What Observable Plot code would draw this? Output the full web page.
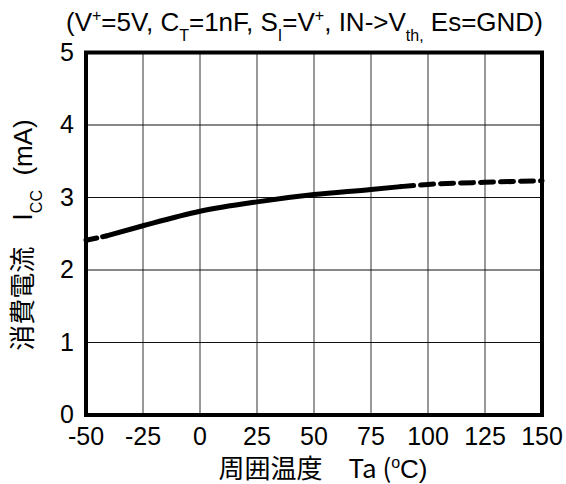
<!DOCTYPE html>
<html>
<head>
<meta charset="utf-8">
<script src="https://cdn.jsdelivr.net/npm/d3@7"></script>
<script src="https://cdn.jsdelivr.net/npm/@observablehq/plot@0.6"></script>
<style>
  html, body { margin: 0; padding: 0; background: #fff; }
  svg text { font-family: "Liberation Sans", Arial, sans-serif; }
</style>
</head>
<body>
<div id="chart"></div>
<script>
// Ambient temperature (°C) and supply current Icc (mA)
const tempC = [-50, -41, -25, 0, 25, 50, 75, 88, 100, 125, 150];
const iccMA = [2.41, 2.47, 2.61, 2.81, 2.94, 3.04, 3.11, 3.15, 3.18, 3.21, 3.23];
// which points belong to each drawn segment
const dashStartIdx = [0, 1];
const solidIdx = [1, 2, 3, 4, 5, 6, 7];
const dashEndIdx = [7, 8, 9, 10];
const xTicks = [-50, -25, 0, 25, 50, 75, 100, 125, 150];
const yTicks = [0, 1, 2, 3, 4, 5];

const pts = idx => idx.map(i => ({t: tempC[i], v: iccMA[i]}));

const W = 566, H = 484;
const chart = Plot.plot({
  width: W, height: H,
  marginLeft: 85.5, marginRight: 24.5, marginTop: 52, marginBottom: 69.5,
  style: {fontFamily: "Liberation Sans, Arial, sans-serif", fontSize: "25px", color: "#000", background: "#fff"},
  x: {domain: [-50, 150]},
  y: {domain: [0, 5]},
  marks: [
    Plot.gridX(xTicks, {stroke: "#333", strokeOpacity: 1, strokeWidth: 1}),
    Plot.gridY(yTicks, {stroke: "#111", strokeOpacity: 1, strokeWidth: 1}),
    Plot.line(pts(dashStartIdx), {x: "t", y: "v", stroke: "#000", strokeWidth: 5, strokeDasharray: "11,6", curve: "monotone-x"}),
    Plot.line(pts(solidIdx), {x: "t", y: "v", stroke: "#000", strokeWidth: 5, curve: "monotone-x"}),
    Plot.line(pts(dashEndIdx), {x: "t", y: "v", stroke: "#000", strokeWidth: 5, strokeDasharray: "13,7", curve: "monotone-x"}),
    Plot.frame({stroke: "#000", strokeWidth: 4}),
    Plot.axisX({ticks: xTicks, tickSize: 0, tickPadding: 12, fontSize: 25, label: null, tickFormat: d => String(d)}),
    Plot.axisY({ticks: yTicks, tickSize: 0, tickPadding: 12, fontSize: 25, label: null, tickFormat: d => String(d)})
  ]
});
document.getElementById("chart").appendChild(chart);

const svg = d3.select(chart);
svg.selectAll('g[aria-label$="tick label"]').attr("font-size", 25);

function addText(x, y, parts, opts = {}) {
  const t = svg.append("text")
    .attr("x", x).attr("y", y)
    .attr("font-size", opts.size || 21)
    .attr("text-anchor", opts.anchor || "start")
    .attr("fill", "#000");
  if (opts.transform) t.attr("transform", opts.transform).attr("x", 0).attr("y", 0);
  let shift = 0;
  for (const p of parts) {
    const [str, kind] = Array.isArray(p) ? p : [p, "n"];
    const s = t.append("tspan").text(str);
    let target = 0, size = null;
    if (kind === "sup") { target = -10; size = 16; }
    if (kind === "sub") { target = 10; size = 16; }
    s.attr("dy", target - shift);
    if (size) s.attr("font-size", size);
    shift = target;
  }
  return t;
}

// Title
addText(66, 31, ["(V", ["+", "sup"], "=5V, C", ["T", "sub"], "=1nF, S", ["I", "sub"], "=V", ["+", "sup"], ", IN->V", ["th,", "sub"], " Es=GND)"], {size: 26});

// X axis label
const xl = addText(323, 478, ["周囲温度　Ta (", ["o", "sup"], "C)"], {size: 26, anchor: "middle"});
xl.select("tspan").attr("font-family", "Noto Sans CJK JP, Liberation Sans, sans-serif");

// Y axis label
const yl = addText(0, 0, ["消費電流　I", ["CC", "sub"], "  (mA)"], {size: 26, anchor: "middle", transform: "translate(32,235) rotate(-90)"});
yl.select("tspan").attr("font-family", "Noto Sans CJK JP, Liberation Sans, sans-serif");
</script>
</body>
</html>
